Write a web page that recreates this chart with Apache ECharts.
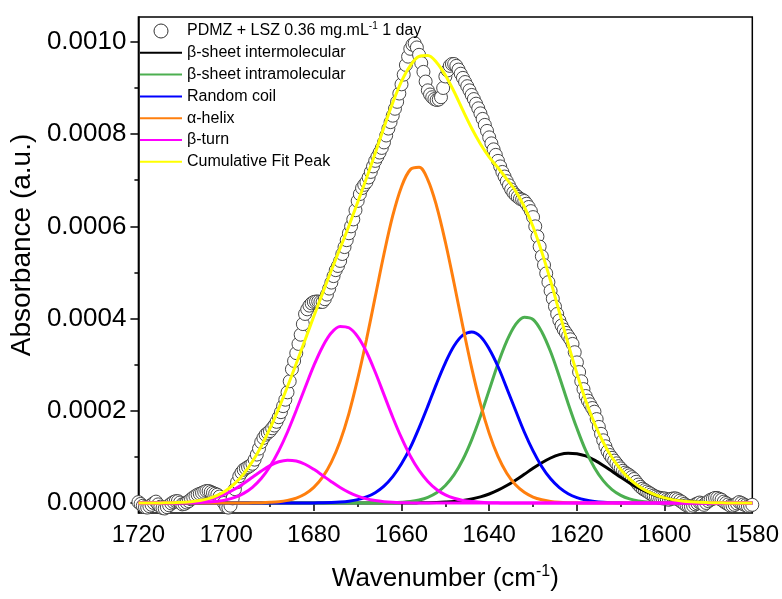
<!DOCTYPE html>
<html>
<head>
<meta charset="utf-8">
<script src="https://cdn.jsdelivr.net/npm/echarts@6/dist/echarts.min.js"></script>
<style>
  html, body { margin: 0; padding: 0; background: #ffffff; }
  #chart { width: 782px; height: 599px; }
</style>
</head>
<body>
<div id="chart"></div>
<script>
// Measured amide I band (absorbance vs wavenumber, cm-1), 0.5 cm-1 spacing
const obsWavenumber = [
  1720, 1719.5, 1719, 1718.5, 1718, 1717.5, 1717, 1716.5, 1716, 1715.5,
  1715, 1714.5, 1714, 1713.5, 1713, 1712.5, 1712, 1711.5, 1711, 1710.5,
  1710, 1709.5, 1709, 1708.5, 1708, 1707.5, 1707, 1706.5, 1706, 1705.5,
  1705, 1704.5, 1704, 1703.5, 1703, 1702.5, 1702, 1701.5, 1701, 1700.5,
  1700, 1699.5, 1699, 1698.5, 1698, 1697.5, 1697, 1696.5, 1696, 1695.5,
  1695, 1694.5, 1694, 1693.5, 1693, 1692.5, 1692, 1691.5, 1691, 1690.5,
  1690, 1689.5, 1689, 1688.5, 1688, 1687.5, 1687, 1686.5, 1686, 1685.5,
  1685, 1684.5, 1684, 1683.5, 1683, 1682.5, 1682, 1681.5, 1681, 1680.5,
  1680, 1679.5, 1679, 1678.5, 1678, 1677.5, 1677, 1676.5, 1676, 1675.5,
  1675, 1674.5, 1674, 1673.5, 1673, 1672.5, 1672, 1671.5, 1671, 1670.5,
  1670, 1669.5, 1669, 1668.5, 1668, 1667.5, 1667, 1666.5, 1666, 1665.5,
  1665, 1664.5, 1664, 1663.5, 1663, 1662.5, 1662, 1661.5, 1661, 1660.5,
  1660, 1659.5, 1659, 1658.5, 1658, 1657.5, 1657, 1656.5, 1656, 1655.5,
  1655, 1654.5, 1654, 1653.5, 1653, 1652.5, 1652, 1651.5, 1651, 1650.5,
  1650, 1649.5, 1649, 1648.5, 1648, 1647.5, 1647, 1646.5, 1646, 1645.5,
  1645, 1644.5, 1644, 1643.5, 1643, 1642.5, 1642, 1641.5, 1641, 1640.5,
  1640, 1639.5, 1639, 1638.5, 1638, 1637.5, 1637, 1636.5, 1636, 1635.5,
  1635, 1634.5, 1634, 1633.5, 1633, 1632.5, 1632, 1631.5, 1631, 1630.5,
  1630, 1629.5, 1629, 1628.5, 1628, 1627.5, 1627, 1626.5, 1626, 1625.5,
  1625, 1624.5, 1624, 1623.5, 1623, 1622.5, 1622, 1621.5, 1621, 1620.5,
  1620, 1619.5, 1619, 1618.5, 1618, 1617.5, 1617, 1616.5, 1616, 1615.5,
  1615, 1614.5, 1614, 1613.5, 1613, 1612.5, 1612, 1611.5, 1611, 1610.5,
  1610, 1609.5, 1609, 1608.5, 1608, 1607.5, 1607, 1606.5, 1606, 1605.5,
  1605, 1604.5, 1604, 1603.5, 1603, 1602.5, 1602, 1601.5, 1601, 1600.5,
  1600, 1599.5, 1599, 1598.5, 1598, 1597.5, 1597, 1596.5, 1596, 1595.5,
  1595, 1594.5, 1594, 1593.5, 1593, 1592.5, 1592, 1591.5, 1591, 1590.5,
  1590, 1589.5, 1589, 1588.5, 1588, 1587.5, 1587, 1586.5, 1586, 1585.5,
  1585, 1584.5, 1584, 1583.5, 1583, 1582.5, 1582, 1581.5, 1581, 1580.5,
  1580
];
const obsAbsorbance = [
  2e-6, -2e-6, -6e-6, -9e-6, -10e-6, -7e-6, -4e-6, 0, 3e-6, -3e-6,
  -8e-6, -11e-6, -12e-6, -9e-6, -5e-6, -1e-6, 2e-6, 4e-6, 4e-6, 1e-6,
  -3e-6, -2e-6, 1e-6, 4e-6, 8e-6, 12e-6, 15e-6, 18e-6, 20e-6, 22e-6,
  24e-6, 26e-6, 26e-6, 24e-6, 22e-6, 20e-6, 18e-6, 14e-6, 8e-6, 0,
  -8e-6, -10e-6, -6e-6, 10e-6, 30e-6, 45e-6, 58e-6, 66e-6, 72e-6, 75e-6,
  78e-6, 81e-6, 85e-6, 94e-6, 105e-6, 118e-6, 132e-6, 141e-6, 148e-6, 152e-6,
  156e-6, 162e-6, 168e-6, 176e-6, 186e-6, 197e-6, 210e-6, 224e-6, 240e-6, 264e-6,
  290e-6, 308e-6, 325e-6, 345e-6, 365e-6, 388e-6, 410e-6, 420e-6, 428e-6, 433e-6,
  436e-6, 437e-6, 437e-6, 436e-6, 436e-6, 442e-6, 452e-6, 465e-6, 478e-6, 492e-6,
  505e-6, 514e-6, 525e-6, 540e-6, 555e-6, 570e-6, 585e-6, 600e-6, 615e-6, 635e-6,
  655e-6, 670e-6, 683e-6, 690e-6, 696e-6, 706e-6, 718e-6, 730e-6, 742e-6, 751e-6,
  760e-6, 770e-6, 782e-6, 797e-6, 812e-6, 826e-6, 840e-6, 855e-6, 870e-6, 888e-6,
  908e-6, 929e-6, 950e-6, 968e-6, 985e-6, 994e-6, 997e-6, 988e-6, 972e-6, 954e-6,
  935e-6, 914e-6, 895e-6, 886e-6, 880e-6, 876e-6, 874e-6, 875e-6, 880e-6, 900e-6,
  925e-6, 938e-6, 948e-6, 952e-6, 952e-6, 948e-6, 940e-6, 931e-6, 922e-6, 913e-6,
  904e-6, 895e-6, 885e-6, 876e-6, 866e-6, 856e-6, 845e-6, 833e-6, 820e-6, 807e-6,
  793e-6, 780e-6, 767e-6, 755e-6, 742e-6, 730e-6, 718e-6, 708e-6, 698e-6, 689e-6,
  680e-6, 673e-6, 668e-6, 664e-6, 660e-6, 658e-6, 655e-6, 649e-6, 642e-6, 633e-6,
  620e-6, 600e-6, 578e-6, 556e-6, 535e-6, 516e-6, 498e-6, 479e-6, 460e-6, 443e-6,
  426e-6, 410e-6, 396e-6, 385e-6, 376e-6, 369e-6, 362e-6, 355e-6, 345e-6, 327e-6,
  305e-6, 284e-6, 264e-6, 247e-6, 232e-6, 222e-6, 214e-6, 206e-6, 198e-6, 182e-6,
  165e-6, 150e-6, 136e-6, 123e-6, 112e-6, 104e-6, 98e-6, 92e-6, 86e-6, 80e-6,
  75e-6, 70e-6, 66e-6, 63e-6, 60e-6, 56e-6, 52e-6, 46e-6, 40e-6, 35e-6,
  31e-6, 28e-6, 25e-6, 22e-6, 19e-6, 16e-6, 14e-6, 12e-6, 11e-6, 10e-6,
  10e-6, 8e-6, 7e-6, 9e-6, 10e-6, 10e-6, 8e-6, 5e-6, 2e-6, -2e-6,
  -5e-6, -7e-6, -8e-6, -6e-6, -3e-6, -1e-6, 1e-6, -1e-6, -4e-6, 0,
  4e-6, 7e-6, 9e-6, 11e-6, 11e-6, 9e-6, 7e-6, 3e-6, 0, -3e-6,
  -6e-6, -6e-6, -4e-6, -1e-6, 2e-6, 0, -3e-6, -5e-6, -7e-6, -6e-6,
  -4e-6
];

// Fitted band components, sampled every 2 cm-1
const fitWavenumber = [
  1720, 1718, 1716, 1714, 1712, 1710, 1708, 1706, 1704, 1702,
  1700, 1698, 1696, 1694, 1692, 1690, 1688, 1686, 1684, 1682,
  1680, 1678, 1676, 1674, 1672, 1670, 1668, 1666, 1664, 1662,
  1660, 1658, 1656, 1654, 1652, 1650, 1648, 1646, 1644, 1642,
  1640, 1638, 1636, 1634, 1632, 1630, 1628, 1626, 1624, 1622,
  1620, 1618, 1616, 1614, 1612, 1610, 1608, 1606, 1604, 1602,
  1600, 1598, 1596, 1594, 1592, 1590, 1588, 1586, 1584, 1582,
  1580
];
const betaSheetInter = [
  0, 0, 0, 0, 0, 0, 0, 0, 0, 0,
  0, 0, 0, 0, 0, 0, 0, 0, 0, 0,
  0, 0, 0, 0, 0, 0, 0, 0, 0, 0,
  0.1e-6, 0.1e-6, 0.3e-6, 0.55e-6, 1.0e-6, 1.9e-6, 3.2e-6, 5.4e-6, 8.6e-6, 13.2e-6,
  19.5e-6, 27.7e-6, 37.8e-6, 49.5e-6, 62.3e-6, 75.3e-6, 87.4e-6, 97.6e-6, 105e-6, 108e-6,
  107e-6, 102e-6, 92.9e-6, 81.5e-6, 68.8e-6, 55.8e-6, 43.4e-6, 32.5e-6, 23.4e-6, 16.1e-6,
  10.7e-6, 6.8e-6, 4.2e-6, 2.5e-6, 1.4e-6, 0.8e-6, 0.4e-6, 0.2e-6, 0.1e-6, 0,
  0
];
const betaSheetIntra = [
  0, 0, 0, 0, 0, 0, 0, 0, 0, 0,
  0, 0, 0, 0, 0, 0, 0, 0, 0, 0,
  0, 0, 0, 0, 0, 0, 0, 0.1e-6, 0.3e-6, 0.6e-6,
  1.5e-6, 3.1e-6, 6.4e-6, 12.2e-6, 22.1e-6, 37.9e-6, 61.4e-6, 94.3e-6, 137e-6, 188e-6,
  245e-6, 302e-6, 351e-6, 387e-6, 403e-6, 398e-6, 371e-6, 328e-6, 274e-6, 216e-6,
  162e-6, 114e-6, 76.6e-6, 48.5e-6, 29.0e-6, 16.5e-6, 8.8e-6, 4.5e-6, 2.2e-6, 1.0e-6,
  0.4e-6, 0, 0, 0, 0, 0, 0, 0, 0, 0,
  0
];
const randomCoil = [
  0, 0, 0, 0, 0, 0, 0, 0, 0, 0,
  0, 0, 0, 0, 0, 0, 0, 0, 0, 0,
  0.2e-6, 0.4e-6, 0.9e-6, 2.0e-6, 3.9e-6, 7.3e-6, 13.1e-6, 22.4e-6, 36.6e-6, 57.1e-6,
  85.0e-6, 120e-6, 163e-6, 210e-6, 259e-6, 304e-6, 341e-6, 364e-6, 371e-6, 361e-6,
  334e-6, 296e-6, 249e-6, 201e-6, 154e-6, 113e-6, 78.7e-6, 52.4e-6, 33.3e-6, 20.2e-6,
  11.7e-6, 6.4e-6, 3.4e-6, 1.7e-6, 0.8e-6, 0.4e-6, 0, 0, 0, 0,
  0, 0, 0, 0, 0, 0, 0, 0, 0, 0,
  0
];
const alphaHelix = [
  0, 0, 0, 0, 0, 0, 0, 0, 0, 0,
  0, 0, 0.1e-6, 0.3e-6, 0.6e-6, 1.4e-6, 2.8e-6, 5.7e-6, 10.7e-6, 19.5e-6,
  33.8e-6, 55.9e-6, 88.7e-6, 134e-6, 194e-6, 269e-6, 354e-6, 447e-6, 540e-6, 623e-6,
  686e-6, 723e-6, 728e-6, 701e-6, 644e-6, 566e-6, 476e-6, 382e-6, 293e-6, 215e-6,
  151e-6, 101e-6, 64.6e-6, 39.5e-6, 23.2e-6, 12.9e-6, 6.9e-6, 3.5e-6, 1.7e-6, 0.8e-6,
  0.4e-6, 0, 0, 0, 0, 0, 0, 0, 0, 0,
  0, 0, 0, 0, 0, 0, 0, 0, 0, 0,
  0
];
const betaTurnMain = [
  0, 0, 0, 0, 0, 0.2e-6, 0.4e-6, 0.9e-6, 1.9e-6, 3.6e-6,
  6.8e-6, 12.2e-6, 20.8e-6, 34.0e-6, 53.0e-6, 79.1e-6, 113e-6, 154e-6, 201e-6, 250e-6,
  298e-6, 339e-6, 369e-6, 383e-6, 380e-6, 361e-6, 328e-6, 284e-6, 235e-6, 186e-6,
  141e-6, 102e-6, 70.6e-6, 46.7e-6, 29.4e-6, 17.8e-6, 10.3e-6, 5.6e-6, 3.0e-6, 1.5e-6,
  0.7e-6, 0.3e-6, 0, 0, 0, 0, 0, 0, 0, 0,
  0, 0, 0, 0, 0, 0, 0, 0, 0, 0,
  0, 0, 0, 0, 0, 0, 0, 0, 0, 0,
  0
];
const betaTurnMinor = [
  0, 0, 0.1e-6, 0.3e-6, 0.5e-6, 1.2e-6, 2.3e-6, 4.3e-6, 7.7e-6, 12.9e-6,
  20.3e-6, 30.2e-6, 42.3e-6, 55.7e-6, 69.2e-6, 81.1e-6, 89.4e-6, 92.9e-6, 91.0e-6, 84.0e-6,
  73.0e-6, 59.8e-6, 46.2e-6, 33.6e-6, 23.0e-6, 14.9e-6, 9.0e-6, 5.2e-6, 2.8e-6, 1.4e-6,
  0.7e-6, 0.3e-6, 0.1e-6, 0, 0, 0, 0, 0, 0, 0,
  0, 0, 0, 0, 0, 0, 0, 0, 0, 0,
  0, 0, 0, 0, 0, 0, 0, 0, 0, 0,
  0, 0, 0, 0, 0, 0, 0, 0, 0, 0,
  0
];
const cumulativeFit = [
  0, 0, 0.1e-6, 0.3e-6, 0.5e-6, 1.4e-6, 2.7e-6, 5.2e-6, 9.6e-6, 16.5e-6,
  27.1e-6, 42.4e-6, 63.2e-6, 90.0e-6, 122.8e-6, 161.6e-6, 205.2e-6, 252.6e-6, 302.7e-6, 353.5e-6,
  405.0e-6, 455.1e-6, 504.8e-6, 552.6e-6, 600.9e-6, 652.3e-6, 704.2e-6, 758.7e-6, 814.7e-6, 868.1e-6,
  914.3e-6, 948.5e-6, 968.4e-6, 970.5e-6, 955.5e-6, 927.6e-6, 891.9e-6, 851.3e-6, 812.6e-6, 778.7e-6,
  750.2e-6, 727.0e-6, 702.4e-6, 677.0e-6, 642.5e-6, 599.2e-6, 544.0e-6, 481.5e-6, 414.0e-6, 345.0e-6,
  281.1e-6, 222.4e-6, 172.9e-6, 131.7e-6, 98.6e-6, 72.7e-6, 52.2e-6, 37.0e-6, 25.6e-6, 17.1e-6,
  11.1e-6, 6.8e-6, 4.2e-6, 2.5e-6, 1.4e-6, 0.8e-6, 0.4e-6, 0.2e-6, 0.1e-6, 0,
  0
];

// Axis tick positions
const yTickValues = [0, 0.0002, 0.0004, 0.0006, 0.0008, 0.0010];
const yMinorTickValues = [0.0001, 0.0003, 0.0005, 0.0007, 0.0009];

const SAMPLE_NAME = 'PDMZ + LSZ 0.36 mg.mL-1 1 day';
const FONT = '"Liberation Sans", Arial, Helvetica, sans-serif';

function pairs(xs, ys) {
  return xs.map((x, i) => [x, ys[i]]);
}

function fitLine(name, color, values, z) {
  return {
    name: name,
    type: 'line',
    data: pairs(fitWavenumber, values),
    symbol: 'none',
    showSymbol: false,
    smooth: 0.35,
    z: z,
    lineStyle: { color: color, width: 3 },
    itemStyle: { color: color },
    emphasis: { disabled: true }
  };
}

const chart = echarts.init(document.getElementById('chart'), null, { renderer: 'canvas' });

chart.setOption({
  animation: false,
  backgroundColor: '#ffffff',
  grid: {
    left: 136, right: 29, top: 17, bottom: 86,
    show: true, borderColor: '#000', borderWidth: 1.5, backgroundColor: 'transparent'
  },
  legend: {
    orient: 'vertical',
    left: 139,
    top: 21,
    itemWidth: 42,
    itemHeight: 14,
    itemGap: 5.8,
    padding: 0,
    selectedMode: false,
    itemStyle: { opacity: 0 },
    textStyle: {
      fontFamily: FONT, fontSize: 16, color: '#000',
      rich: {
        t: { fontFamily: FONT, fontSize: 16, color: '#000' },
        sup: { fontFamily: FONT, fontSize: 10, color: '#000', padding: [0, 0, 10, 0] }
      }
    },
    formatter: function (name) {
      if (name === SAMPLE_NAME) {
        return '{t|PDMZ + LSZ 0.36 mg.mL}{sup|-1}{t| 1 day}';
      }
      return name;
    },
    data: [
      { name: SAMPLE_NAME, icon: 'circle',
        itemStyle: { color: '#fff', borderColor: '#333', borderWidth: 1, opacity: 1 } },
      'β-sheet intermolecular',
      'β-sheet intramolecular',
      'Random coil',
      'α-helix',
      'β-turn',
      'Cumulative Fit Peak'
    ]
  },
  xAxis: {
    type: 'value',
    min: 1580,
    max: 1720,
    interval: 20,
    inverse: true,
    position: 'bottom',
    name: '{t|Wavenumber (cm}{sup|-1}{t|)}',
    nameLocation: 'middle',
    nameGap: 51,
    nameTextStyle: {
      rich: {
        t: { fontFamily: FONT, fontSize: 26, color: '#000' },
        sup: { fontFamily: FONT, fontSize: 16, color: '#000', padding: [0, 0, 13, 0] }
      }
    },
    axisLine: { show: true, lineStyle: { color: '#000', width: 1.5 } },
    axisTick: { show: true, length: 8, lineStyle: { color: '#000', width: 1.5 } },
    minorTick: { show: true, splitNumber: 2, length: 4, lineStyle: { color: '#000', width: 1.5 } },
    axisLabel: { fontFamily: FONT, fontSize: 24, color: '#000', margin: 10,
      formatter: function (v) { return String(v); } },
    splitLine: { show: false }
  },
  yAxis: [
    {
      type: 'value',
      min: -0.0000217,
      max: 0.001054,
      position: 'left',
      name: 'Absorbance (a.u.)',
      nameLocation: 'middle',
      nameGap: 92,
      nameTextStyle: { fontFamily: FONT, fontSize: 28, color: '#000', padding: [0, 0, 0, 40] },
      axisLine: { show: true, lineStyle: { color: '#000', width: 1.5 } },
      axisTick: { show: true, length: 8, customValues: yTickValues,
        lineStyle: { color: '#000', width: 1.5 } },
      axisLabel: { fontFamily: FONT, fontSize: 26, color: '#000', margin: 12,
        customValues: yTickValues,
        formatter: function (v) { return v.toFixed(4); } },
      splitLine: { show: false }
    },
    {
      type: 'value',
      min: -0.0000217,
      max: 0.001054,
      position: 'left',
      axisLine: { show: false },
      axisTick: { show: true, length: 4, customValues: yMinorTickValues,
        lineStyle: { color: '#000', width: 1.5 } },
      axisLabel: { show: false, customValues: yMinorTickValues },
      splitLine: { show: false }
    }
  ],
  series: [
    {
      name: SAMPLE_NAME,
      type: 'scatter',
      data: pairs(obsWavenumber, obsAbsorbance),
      symbol: 'circle',
      symbolSize: 13,
      z: 1,
      itemStyle: { color: '#ffffff', borderColor: '#333333', borderWidth: 0.9, opacity: 1 },
      emphasis: { disabled: true }
    },
    fitLine('β-sheet intermolecular', '#000000', betaSheetInter, 2),
    fitLine('β-sheet intramolecular', '#4caf50', betaSheetIntra, 3),
    fitLine('Random coil', '#0000ff', randomCoil, 4),
    fitLine('α-helix', '#ff7f0e', alphaHelix, 5),
    fitLine('β-turn', '#ff00ff', betaTurnMain, 6),
    fitLine('β-turn', '#ff00ff', betaTurnMinor, 6),
    fitLine('Cumulative Fit Peak', '#ffff00', cumulativeFit, 7)
  ]
});
</script>
</body>
</html>
